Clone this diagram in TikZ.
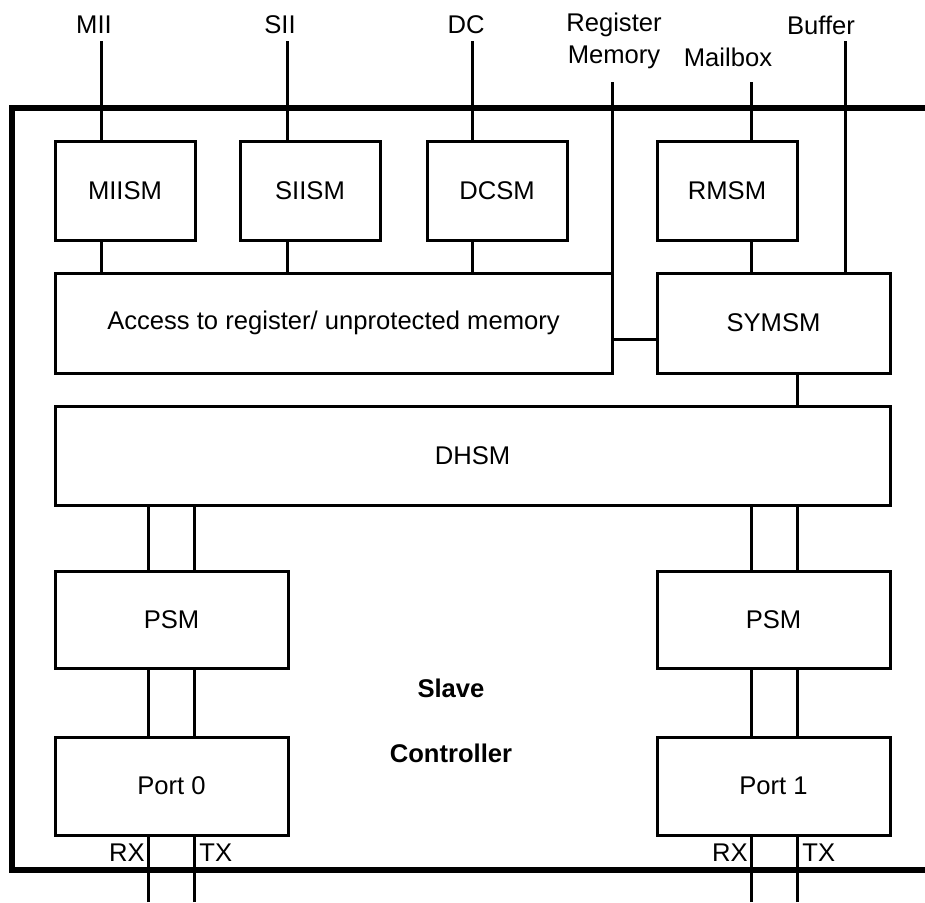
\documentclass[tikz,border=0pt]{standalone}
\usepackage{fontspec}
\setmainfont{Liberation Sans}
\usetikzlibrary{calc}
\tikzset{
  smbox/.style={draw, line width=1.5pt, inner sep=0pt, minimum height=49.5pt},
  link/.style={line width=1.5pt},
  frame/.style={line width=3pt, line join=miter},
}
\begin{document}
\begin{tikzpicture}[x=0.5pt, y=-0.5pt, font=\fontsize{12.8}{16}\selectfont]
  \useasboundingbox (0,0) rectangle (925,902);
  % Outer frame, open to the right
  \draw[frame] (925,108) -- (12,108) -- (12,870) -- (925,870);
  % Interface labels on top
  \node (mii) at (94,25) {MII};
  \node (sii) at (280,25) {SII};
  \node (dc) at (466,25) {DC};
  \node[align=center] (regmem) at (614,41) {Register\\Memory};
  \node (mbox) at (728,57) {Mailbox};
  \node (buf) at (821,25) {Buffer};
  % Free ends of the interface lines
  \coordinate (miiT) at (101.5,41);
  \coordinate (siiT) at (287,41);
  \coordinate (dcT) at (472.5,41);
  \coordinate (regT) at (612,82);
  \coordinate (mboxT) at (751,82);
  \coordinate (bufT) at (845,41);
  % State machines
  \node[smbox, minimum width=70pt] (miism) at (125,190.5) {MIISM};
  \node[smbox, minimum width=70pt] (siism) at (310,190.5) {SIISM};
  \node[smbox, minimum width=70pt] (dcsm) at (497,190.5) {DCSM};
  \node[smbox, minimum width=70pt] (rmsm) at (727,190.5) {RMSM};
  \node[smbox, minimum width=278.5pt, minimum height=50pt] (access) at (333.5,323) {Access to register/ unprotected memory};
  \node[smbox, minimum width=116.5pt, minimum height=50pt] (symsm) at (773.5,323) {SYMSM};
  \node[smbox, minimum width=417.5pt] (dhsm) at (472.5,455.5) {DHSM};
  \node[smbox, minimum width=116.5pt, minimum height=48.5pt] (psm0) at (171.5,619.5) {PSM};
  \node[smbox, minimum width=116.5pt, minimum height=48.5pt] (psm1) at (773.5,619.5) {PSM};
  \node[smbox, minimum width=116.5pt, minimum height=49pt] (port0) at (171.5,786) {Port 0};
  \node[smbox, minimum width=116.5pt, minimum height=49pt] (port1) at (773.5,786) {Port 1};
  % Title
  \node[font=\fontsize{12.8}{16}\selectfont\bfseries, align=center] (title) at (451,720.5) {Slave\\[16.5pt]Controller};
  % Port lines, free ends below the frame
  \coordinate (rx0) at (148,902);
  \coordinate (tx0) at (194,902);
  \coordinate (rx1) at (751,902);
  \coordinate (tx1) at (797,902);
  \node[anchor=east, inner sep=1.5pt] (rxl0) at (rx0 |- 0,853) {RX};
  \node[anchor=west, inner sep=2.5pt] (txl0) at (tx0 |- 0,853) {TX};
  \node[anchor=east, inner sep=1.5pt] (rxl1) at (rx1 |- 0,853) {RX};
  \node[anchor=west, inner sep=2.5pt] (txl1) at (tx1 |- 0,853) {TX};
  % Connectors
  \draw[link] (miiT) -- (miiT |- miism.north);
  \draw[link] (siiT) -- (siiT |- siism.north);
  \draw[link] (dcT) -- (dcT |- dcsm.north);
  \draw[link] (regT) -- (regT |- access.north);
  \draw[link] (mboxT) -- (mboxT |- rmsm.north);
  \draw[link] (bufT) -- (bufT |- symsm.north);
  \draw[link] (miism.south -| miiT) -- (access.north -| miiT);
  \draw[link] (siism.south -| siiT) -- (access.north -| siiT);
  \draw[link] (dcsm.south -| dcT) -- (access.north -| dcT);
  \draw[link] (rmsm.south -| mboxT) -- (symsm.north -| mboxT);
  \draw[link] ([yshift=-8pt]access.east) -- ([yshift=-8pt]symsm.west);
  \draw[link] (symsm.south -| tx1) -- (dhsm.north -| tx1);
  \foreach \c/\a/\b in {rx0/dhsm/psm0, tx0/dhsm/psm0, rx0/psm0/port0, tx0/psm0/port0,
                        rx1/dhsm/psm1, tx1/dhsm/psm1, rx1/psm1/port1, tx1/psm1/port1}
    \draw[link] (\a.south -| \c) -- (\b.north -| \c);
  \draw[link] (rx0) -- (rx0 |- port0.south);
  \draw[link] (tx0) -- (tx0 |- port0.south);
  \draw[link] (rx1) -- (rx1 |- port1.south);
  \draw[link] (tx1) -- (tx1 |- port1.south);
\end{tikzpicture}
\end{document}
